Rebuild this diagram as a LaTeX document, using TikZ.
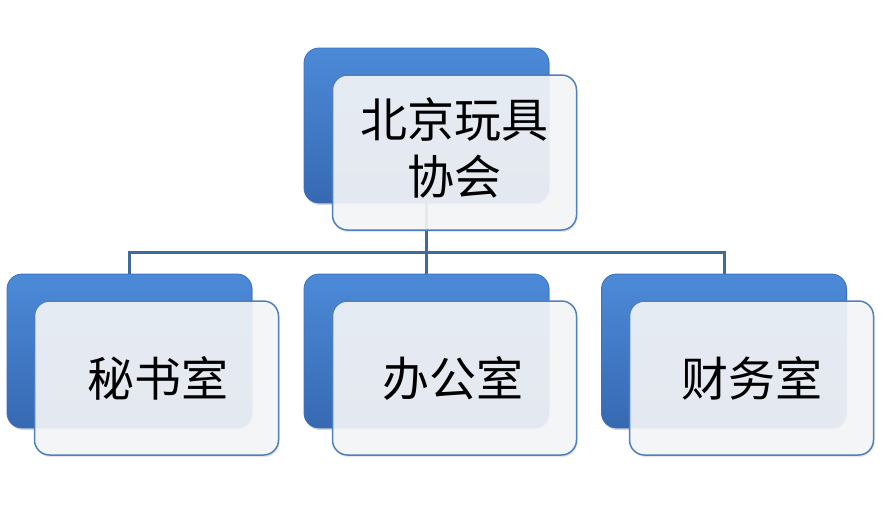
\documentclass[tikz,border=0pt]{standalone}
\usepackage{fontspec}
\newfontfamily\cjk{Noto Sans CJK SC}
\usetikzlibrary{shadows}
\definecolor{backtop}{HTML}{4C8AD8}
\definecolor{backbot}{HTML}{3769B2}
\definecolor{backline}{HTML}{3B70BA}
\definecolor{frontfill}{HTML}{F6F7F9}
\definecolor{frontline}{HTML}{4F7FBE}
\definecolor{conn}{HTML}{41699A}
\tikzset{
  backbox/.style={rectangle, rounded corners=15pt, minimum width=245pt, minimum height=155pt,
    inner sep=0pt, top color=backtop, bottom color=backbot, draw=backline, line width=0.8pt,
    drop shadow={shadow xshift=1pt, shadow yshift=-2pt, opacity=0.25, fill=black!60}},
  frontbox/.style={rectangle, rounded corners=15pt, minimum width=244pt, minimum height=155pt,
    inner sep=0pt, fill=frontfill, fill opacity=0.9, text opacity=1, draw=frontline, line width=1.5pt,
    drop shadow={shadow xshift=1pt, shadow yshift=-2pt, opacity=0.2, fill=black!50},
    font=\cjk\fontsize{47}{57}\selectfont, align=center, text=black},
  boxtext/.style={font=\cjk\fontsize{47}{57}\selectfont, align=center, text=black, inner sep=0pt},
  connector/.style={draw=conn, line width=3pt}
}
\begin{document}
\begin{tikzpicture}[x=1pt,y=-1pt]
\useasboundingbox (0,0) rectangle (881,504);
% back boxes
\node[backbox] (topback) at (426.5,125.5) {};
\node[backbox, minimum height=154pt] (b1back) at (129.5,351) {};
\node[backbox, minimum height=154pt] (b2back) at (426.5,351) {};
\node[backbox, minimum height=154pt] (b3back) at (724,351) {};
% connectors
\coordinate (bus) at (426.5,252);
\draw[connector] (topback.south) -- (bus);
\draw[connector] (bus) -| (b1back.north);
\draw[connector] (bus) -- (b2back.north);
\draw[connector] (bus) -| (b3back.north);
% front boxes
\node[frontbox] (top) at (454.5,152.5) {};
\node[boxtext] (toptext) at (454.5,147.5) {北京玩具\\协会};
\node[frontbox, minimum height=154pt] (b1) at (156.5,378) {\hspace*{2pt}秘书室};
\node[frontbox, minimum height=154pt] (b2) at (454.5,378) {\hspace*{-4pt}办公室};
\node[frontbox, minimum height=154pt] (b3) at (751.5,378) {财务室};
\end{tikzpicture}
\end{document}
